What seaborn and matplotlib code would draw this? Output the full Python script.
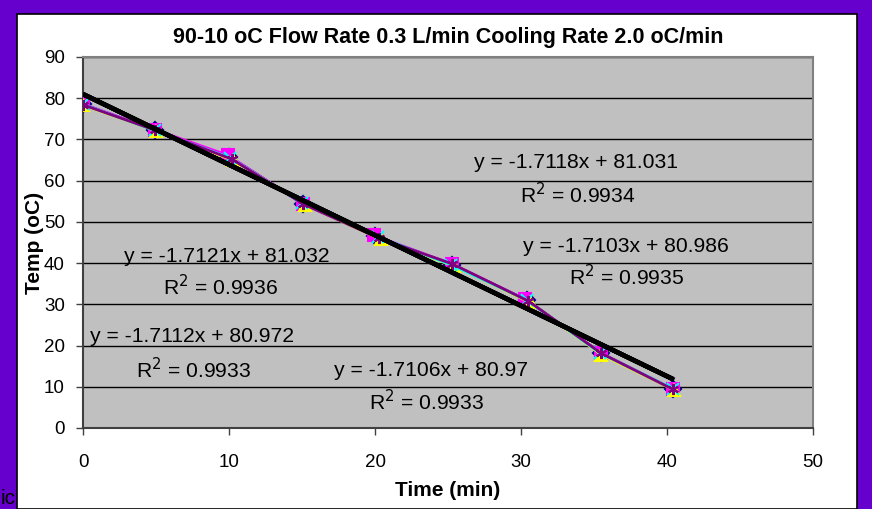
import matplotlib
matplotlib.use("Agg")
import matplotlib.pyplot as plt
import matplotlib.patches as patches
import numpy as np
import seaborn as sns

# five runs (time in min, temp in oC)
time_s1 = [0.0, 4.9, 10.0, 15.1, 20.0, 25.3, 30.4, 35.5, 40.4]
temp_s1 = [78.5, 72.3, 65.8, 54.4, 46.5, 39.6, 31.0, 18.1, 9.4]
time_s2 = [0.0, 4.9, 9.9, 15.1, 19.9, 25.3, 30.3, 35.5, 40.4]
temp_s2 = [78.6, 72.4, 66.2, 54.3, 46.8, 39.7, 31.2, 18.1, 9.4]
time_s3 = [0.0, 5.0, 10.3, 15.2, 20.4, 25.4, 30.6, 35.5, 40.5]
temp_s3 = [78.3, 72.1, 64.9, 54.2, 45.8, 39.3, 30.5, 17.8, 9.2]
time_s4 = [0.0, 4.9, 10.1, 15.0, 20.2, 25.2, 30.4, 35.4, 40.4]
temp_s4 = [78.5, 72.2, 65.5, 54.5, 46.4, 39.6, 31.0, 18.2, 9.5]
time_s5 = [0.0, 4.9, 10.2, 15.1, 20.3, 25.3, 30.5, 35.5, 40.4]
temp_s5 = [78.4, 72.3, 65.2, 54.3, 46.0, 39.8, 30.8, 18.1, 9.4]

# trendline labels as shown
slopes = [-1.7118, -1.7121, -1.7103, -1.7112, -1.7106]
intercepts = [81.031, 81.032, 80.986, 80.972, 80.97]
r2_values = [0.9934, 0.9936, 0.9935, 0.9933, 0.9933]

x_ticks = [0, 10, 20, 30, 40, 50]
y_ticks = [0, 10, 20, 30, 40, 50, 60, 70, 80, 90]

title = "90-10 oC Flow Rate 0.3 L/min Cooling Rate 2.0 oC/min"

sns.set_style("white")
plt.rcParams['font.family'] = ['Liberation Sans', 'DejaVu Sans']
plt.rcParams['text.color'] = 'black'
plt.rcParams['axes.labelcolor'] = 'black'
plt.rcParams['xtick.color'] = 'black'
plt.rcParams['ytick.color'] = 'black'

fig = plt.figure(figsize=(8.72, 5.09), dpi=100)
fig.patch.set_facecolor('#6600CC')
# white chart area inside the purple frame
fig.patches.append(patches.Rectangle((17 / 872, 0), (857 - 17) / 872, 1 - 14 / 509,
                                     transform=fig.transFigure, facecolor='white',
                                     edgecolor='black', lw=1.2, zorder=-5))

ax = fig.add_axes([83 / 872, 1 - 428 / 509, (813 - 83) / 872, (428 - 57) / 509])
ax.set_zorder(2)
ax.set_facecolor('#C0C0C0')

series = [
    (time_s1, temp_s1, '#000080', 'D'),
    (time_s2, temp_s2, '#FF00FF', 's'),
    (time_s3, temp_s3, '#FFFF00', '^'),
    (time_s4, temp_s4, '#00FFFF', 'x'),
    (time_s5, temp_s5, '#800080', (6, 2, 0)),
]
for t, y, c, m in series:
    sns.lineplot(x=t, y=y, color=c, marker=m, markersize=8, markeredgecolor=c,
                 markeredgewidth=1.5, lw=2, sort=False, ax=ax, zorder=3)

# linear trendlines
for (t, y, c, m), k, b in zip(series, slopes, intercepts):
    xs = np.array([min(t), max(t)])
    ax.plot(xs, k * xs + b, color='black', lw=3.2, zorder=4, solid_capstyle='butt')

eq_pos = [(576, 163, 578, 195), (227, 256, 221, 287), (626, 246, 627, 277),
          (192, 337, 194, 370), (431, 371, 427, 402)]
for (ex, ey, rx, ry), k, b, r2 in zip(eq_pos, slopes, intercepts, r2_values):
    ax.text(ex / 872, 1 - ey / 509, f"y = {k}x + {b}", transform=fig.transFigure,
            fontsize=15.2, ha='center', va='center', zorder=5)
    ax.text(rx / 872, 1 - ry / 509, f"R$^2$ = {r2}", transform=fig.transFigure,
            fontsize=15.2, ha='center', va='center', zorder=5)

ax.set_xlim(0, 50)
ax.set_ylim(0, 90)
ax.set_xticks(x_ticks)
ax.set_yticks(y_ticks)
ax.tick_params(axis='both', labelsize=13.5, direction='out', length=5, width=1,
               color='#404040', left=True, bottom=True, pad=8)
ax.tick_params(axis='x', pad=14)
ax.yaxis.grid(True, color='black', lw=1)
ax.set_axisbelow(True)
for s in ['top', 'right']:
    ax.spines[s].set_color('#808080')
    ax.spines[s].set_linewidth(1.5)
for s in ['left', 'bottom']:
    ax.spines[s].set_color('#404040')
    ax.spines[s].set_linewidth(1.5)

ax.set_xlabel("Time (min)", fontsize=15, fontweight='bold', labelpad=7)
ax.set_ylabel("Temp (oC)", fontsize=15, fontweight='bold', labelpad=0)
fig.text(448 / 872, 1 - 38 / 509, title, fontsize=15.5, fontweight='bold',
         ha='center', va='center')
fig.text(0.001, 0.001, "ic", fontsize=15, ha='left', va='bottom')

fig.savefig("out.png", dpi=100, facecolor=fig.get_facecolor())
